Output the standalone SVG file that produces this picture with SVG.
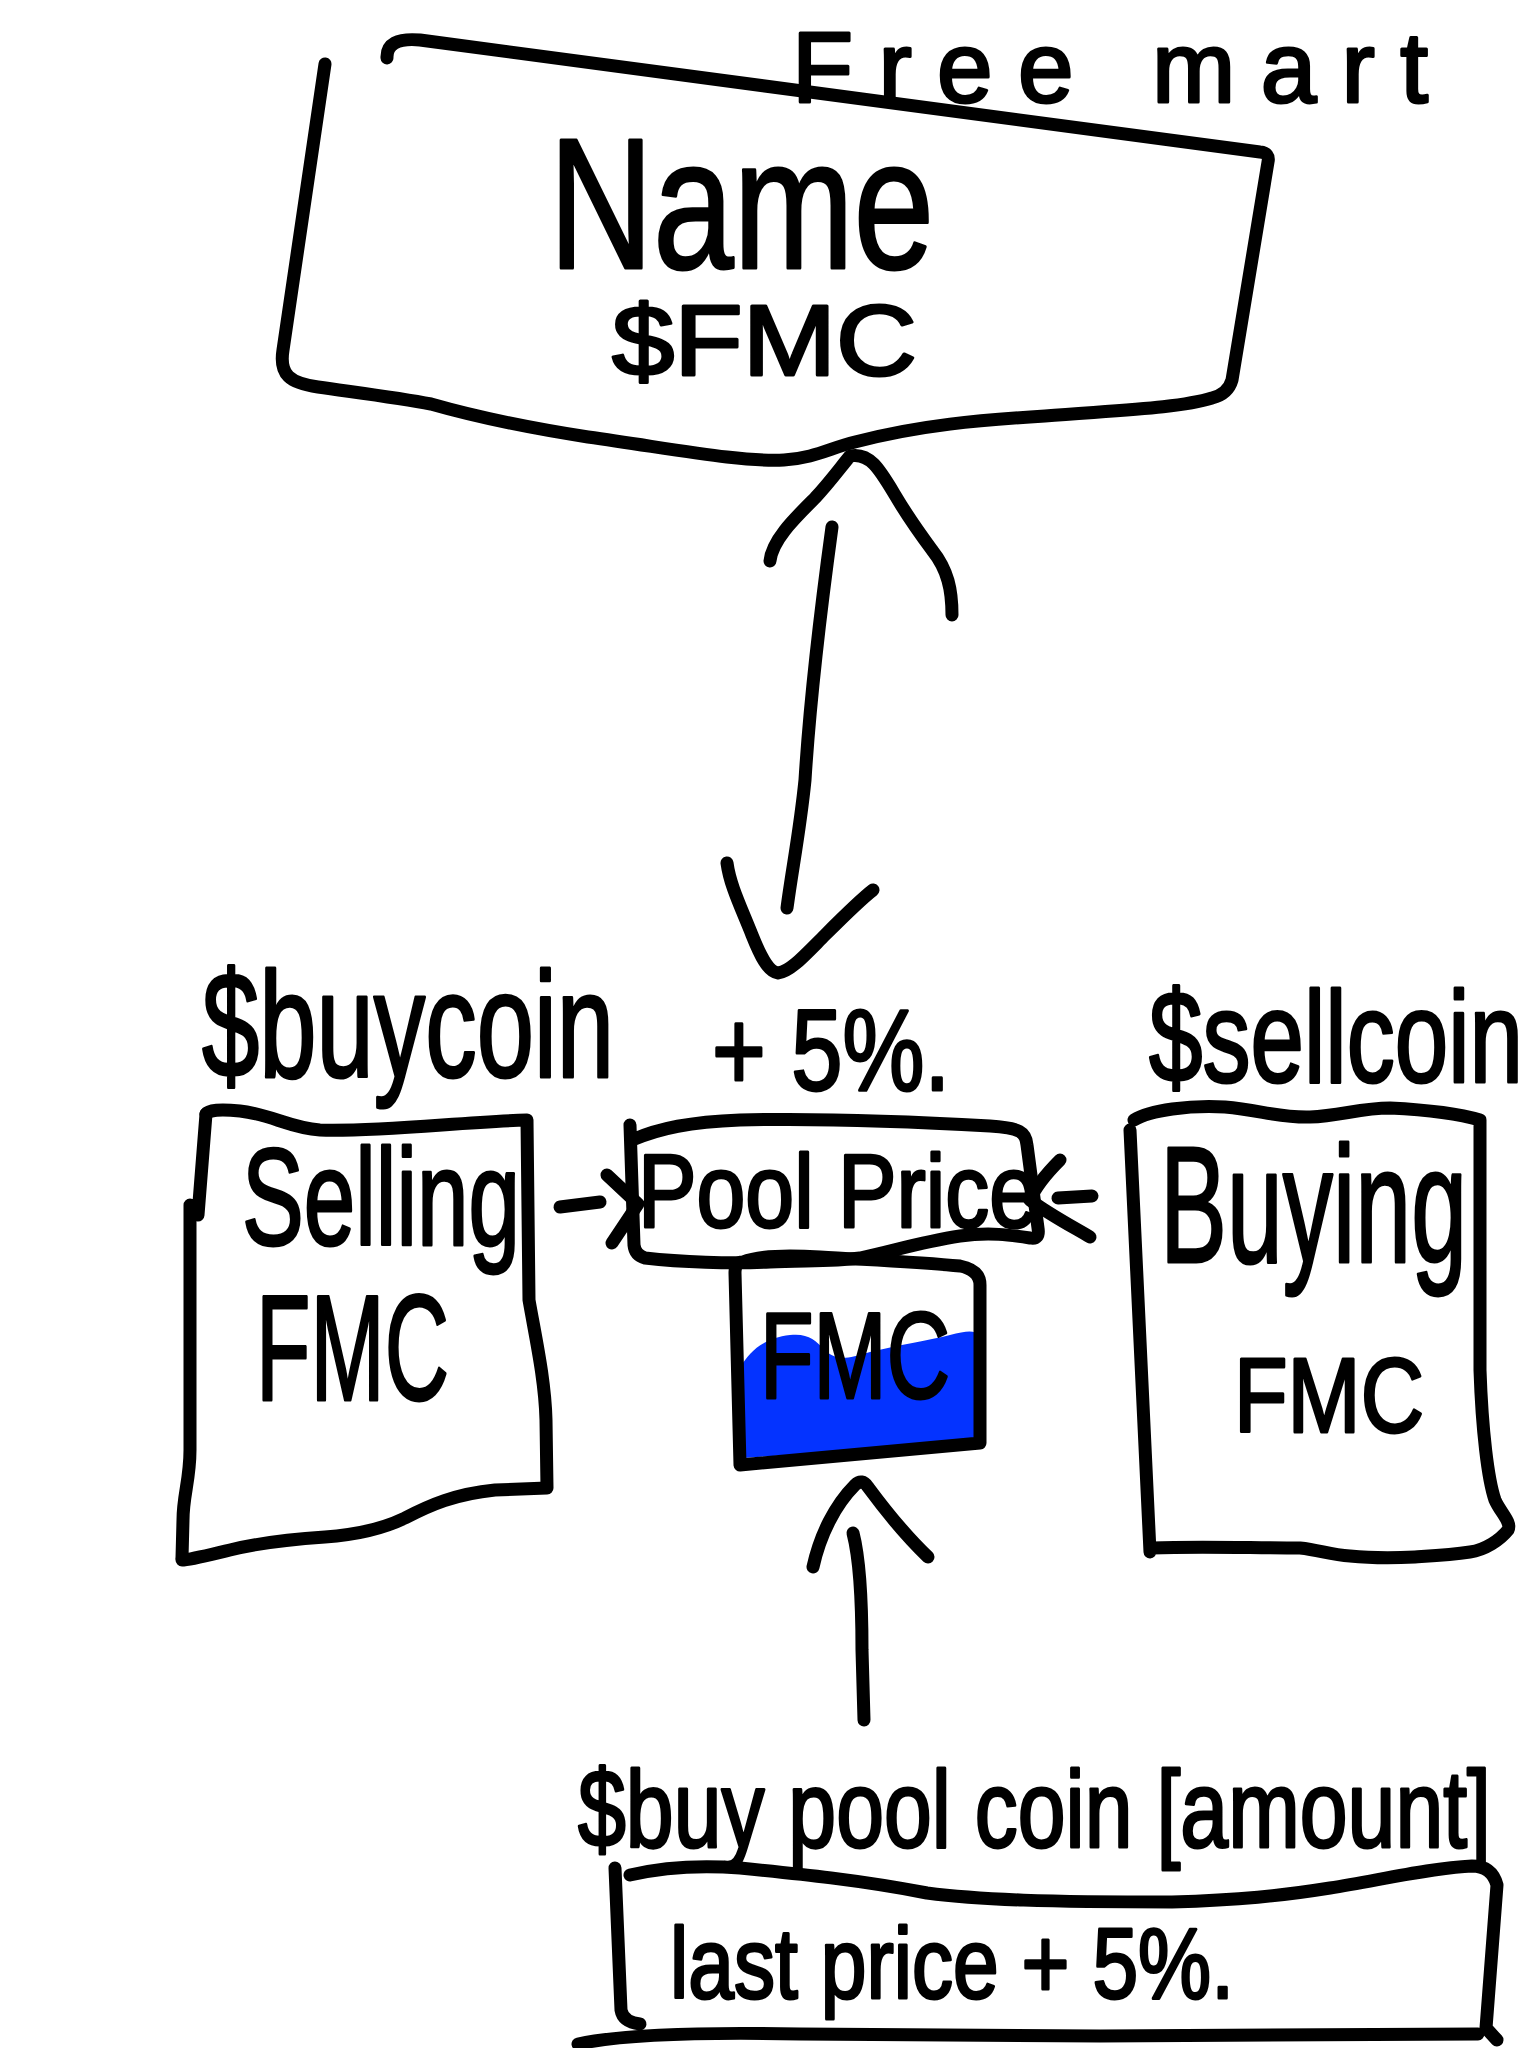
<svg xmlns="http://www.w3.org/2000/svg" width="1536" height="2048" viewBox="0 0 1536 2048">
<style>
.ink{fill:none;stroke:#000;stroke-width:13;stroke-linecap:round;stroke-linejoin:round}
.t{font-family:"Liberation Sans",Arial,sans-serif;fill:#000;stroke:#000;stroke-width:3;stroke-linejoin:round}
</style>
<rect width="1536" height="2048" fill="#fff"/>
<g id="title">
<text class="t" x="792" y="102" font-size="100" textLength="636" lengthAdjust="spacing">Free mart</text>
</g>
<g id="name-box">
<path class="ink" d="M 325 64 L 283 350 C 279 375 290 383 318 387 C 360 393 400 398 431 404 C 480 418 530 428 588 437 C 680 450 740 462 784 460 C 815 458 830 448 855 442 C 920 425 980 420 1045 416 C 1120 410 1180 408 1212 398 Q 1228 394 1232 380 L 1268 162 Q 1270 153 1260 152 L 420 40 Q 386 37 387 58"/>
<text class="t" x="549" y="268" font-size="185" textLength="385" lengthAdjust="spacingAndGlyphs">Name</text>
<text class="t" x="612" y="375" font-size="100" textLength="305" lengthAdjust="spacingAndGlyphs">$FMC</text>
</g>
<g id="selling-box">
<text class="t" x="202" y="1077" font-size="150" textLength="412" lengthAdjust="spacingAndGlyphs">$buycoin</text>
<path class="ink" d="M 206 1114 Q 210 1108 240 1111 C 270 1114 290 1128 320 1130 C 380 1132 460 1122 527 1120 L 529 1300 C 536 1340 545 1380 546 1420 L 547 1488 L 495 1490 C 455 1494 430 1505 405 1518 C 380 1530 355 1535 325 1537 C 280 1540 250 1545 230 1550 C 205 1556 190 1560 182 1560"/>
<path class="ink" d="M 206 1114 L 198 1215 M 190 1205 L 190 1450 C 190 1480 183 1495 183 1520 L 182 1558"/>
<text class="t" x="242" y="1245" font-size="137" textLength="278" lengthAdjust="spacingAndGlyphs">Selling</text>
<text class="t" x="256" y="1400" font-size="150" textLength="193" lengthAdjust="spacingAndGlyphs">FMC</text>
</g>
<g id="pool-price">
<text class="t" x="712" y="1090" font-size="115" textLength="238" lengthAdjust="spacingAndGlyphs">+ 5%.</text>
<path class="ink" d="M 632 1140 C 660 1128 690 1122 740 1120 C 820 1118 920 1122 990 1126 C 1020 1128 1026 1132 1027 1145 L 1038 1228 Q 1040 1240 1030 1238 C 1010 1235 990 1232 960 1236 C 920 1242 890 1252 860 1258 C 830 1262 800 1260 770 1262 C 730 1264 680 1262 645 1258 Q 635 1255 634 1245 L 630 1125"/>
<text class="t" x="638" y="1227" font-size="103" textLength="400" lengthAdjust="spacingAndGlyphs">Pool Price</text>
</g>
<g id="pool-fmc">
<path d="M 740 1368 C 750 1350 765 1338 790 1335 C 808 1333 815 1340 825 1350 C 835 1360 845 1360 870 1352 C 900 1345 930 1340 950 1335 Q 975 1328 978 1335 L 976 1442 L 744 1458 Z" fill="#0433ff"/>
<path class="ink" d="M 743 1262 C 760 1255 790 1255 820 1257 C 870 1260 920 1262 960 1266 Q 980 1270 980 1285 L 980 1443 L 740 1465 L 735 1273 Q 735 1262 743 1262"/>
<text class="t" x="760" y="1398" font-size="122" textLength="190" lengthAdjust="spacingAndGlyphs">FMC</text>
</g>
<g id="buying-box">
<text class="t" x="1149" y="1082" font-size="130" textLength="374" lengthAdjust="spacingAndGlyphs">$sellcoin</text>
<path class="ink" d="M 1134 1120 C 1150 1110 1190 1105 1225 1107 C 1260 1110 1280 1118 1310 1117 C 1340 1116 1360 1108 1390 1108 C 1430 1110 1460 1114 1480 1120 L 1480 1370 C 1482 1430 1488 1480 1495 1500 C 1500 1512 1512 1522 1508 1530 C 1500 1540 1485 1550 1470 1552 C 1450 1555 1430 1556 1415 1557 C 1395 1558 1370 1558 1350 1556 C 1330 1555 1320 1550 1300 1548 C 1250 1548 1200 1546 1152 1548 M 1150 1552 L 1130 1130"/>
<text class="t" x="1160" y="1262" font-size="166" textLength="307" lengthAdjust="spacingAndGlyphs">Buying</text>
<text class="t" x="1234" y="1432" font-size="105" textLength="190" lengthAdjust="spacingAndGlyphs">FMC</text>
</g>
<g id="last-price-box">
<text class="t" x="578" y="1847" font-size="110" textLength="913" lengthAdjust="spacingAndGlyphs">$buy pool coin [amount]</text>
<path class="ink" d="M 630 1875 C 660 1868 700 1865 740 1868 C 800 1874 860 1880 927 1893 C 980 1900 1050 1902 1172 1902 C 1240 1900 1280 1896 1330 1888 C 1380 1880 1430 1868 1472 1866 Q 1492 1866 1497 1885 L 1486 2028 L 1497 2040"/>
<path class="ink" d="M 615 1868 L 621 2010 Q 623 2022 640 2024"/>
<path class="ink" d="M 578 2044 C 620 2035 700 2032 800 2034 L 1100 2036 L 1478 2034"/>
<text class="t" x="670" y="1998" font-size="100" textLength="564" lengthAdjust="spacingAndGlyphs">last price + 5%.</text>
</g>
<g id="connectors">
<path class="ink" d="M 832 527 C 822 600 810 700 805 780 C 800 830 792 870 787 908"/>
<path class="ink" d="M 770 561 C 772 540 795 518 815 498 C 830 482 840 468 850 456 C 870 452 880 470 895 495 C 905 512 915 527 932 550 C 948 570 952 590 952 615"/>
<path class="ink" d="M 727 863 C 730 885 740 905 752 935 C 760 955 768 972 778 973 C 790 972 805 955 825 935 C 845 915 860 900 873 890"/>
<path class="ink" d="M 560 1207 L 600 1202 M 607 1175 L 638 1204 L 612 1243"/>
<path class="ink" d="M 1058 1198 L 1092 1196 M 1060 1160 C 1045 1175 1035 1188 1030 1200 C 1050 1215 1075 1228 1090 1237"/>
<path class="ink" d="M 853 1533 C 860 1560 862 1600 862 1650 L 864 1720"/>
<path class="ink" d="M 813 1567 C 820 1535 835 1505 855 1485 Q 862 1478 868 1487 C 885 1510 905 1535 928 1557"/>
</g>
</svg>
